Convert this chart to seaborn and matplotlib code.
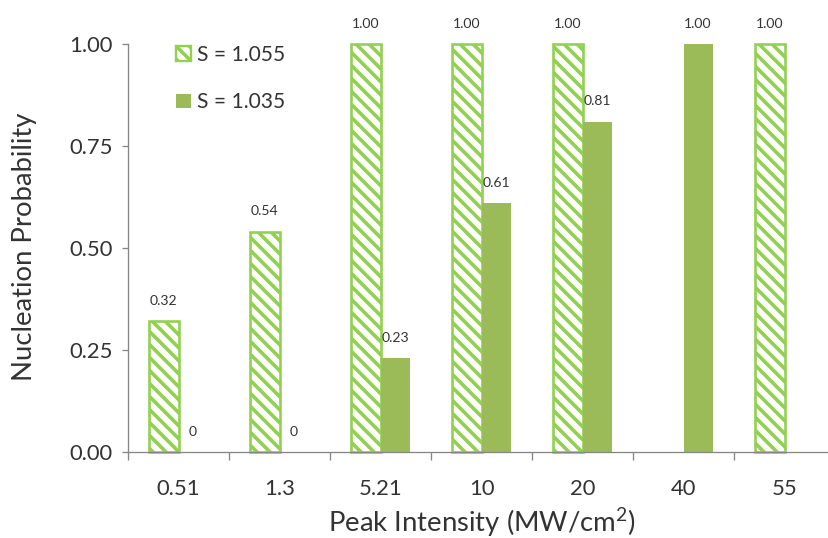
import numpy as np
import pandas as pd
import matplotlib
matplotlib.use("Agg")
import matplotlib.pyplot as plt
from matplotlib.patches import Patch
import seaborn as sns

# Nucleation probability per laser peak intensity, two supersaturations
intensity = ["0.51", "1.3", "5.21", "10", "20", "40", "55"]
prob_s1055 = [0.32, 0.54, 1.00, 1.00, 1.00, np.nan, 1.00]
prob_s1035 = [0.00, 0.00, 0.23, 0.61, 0.81, 1.00, np.nan]
series_labels = ["S = 1.055", "S = 1.035"]
y_ticks = [0.00, 0.25, 0.50, 0.75, 1.00]

DPI = 78
W, H = 828, 538


def px(v):
    """Convert pixels to points at the figure dpi."""
    return v * 72.0 / DPI


sns.set_theme(style="white")
plt.rcParams["font.family"] = ["Lato", "DejaVu Sans"]
plt.rcParams["mathtext.fontset"] = "custom"
plt.rcParams["mathtext.rm"] = "Lato"
plt.rcParams["mathtext.it"] = "Lato"
plt.rcParams["hatch.linewidth"] = px(3.6)

GREEN_HATCH = "#92D050"
GREEN_SOLID = "#9BBB59"
AXIS_GREY = "#868686"
TEXT = "#333333"
HATCH = "\\\\"

df = pd.concat([
    pd.DataFrame({"intensity": intensity, "prob": prob_s1055, "S": series_labels[0]}),
    pd.DataFrame({"intensity": intensity, "prob": prob_s1035, "S": series_labels[1]}),
]).dropna()

fig = plt.figure(figsize=(W / DPI, H / DPI), dpi=DPI, facecolor="white")
ax = fig.add_axes([128 / W, 86 / H, 707 / W, 408 / H])

sns.barplot(
    data=df, x="intensity", y="prob", hue="S",
    order=intensity, hue_order=series_labels,
    palette={series_labels[0]: GREEN_HATCH, series_labels[1]: GREEN_SOLID},
    width=0.58, errorbar=None, legend=False, ax=ax, saturation=1,
)

hatched, solid = ax.containers[0], ax.containers[1]
for p in hatched.patches:
    p.set_facecolor("white")
    p.set_edgecolor(GREEN_HATCH)
    p.set_hatch(HATCH)
    p.set_linewidth(px(2.6))
    p.set_clip_on(False)
for p in solid.patches:
    p.set_edgecolor("none")
    p.set_linewidth(0)
    p.set_clip_on(False)

for cont in (hatched, solid):
    labels = ["0" if v == 0 else f"{v:.2f}" for v in cont.datavalues]
    ax.bar_label(cont, labels=labels, padding=px(14.5), fontsize=px(14),
                 color=TEXT)

ax.set_xlim(-0.5, len(intensity) - 0.5)
ax.set_ylim(0, 1)
ax.set_yticks(y_ticks)
ax.set_yticklabels([f"{t:.2f}" for t in y_ticks])

# category labels at centres, tick marks on category boundaries
ax.set_xticks(range(len(intensity)))
ax.set_xticklabels(intensity)
ax.set_xticks(np.arange(-0.5, len(intensity), 1.0), minor=True)
ax.tick_params(axis="x", which="major", length=0, pad=px(27),
               labelsize=px(22), labelcolor=TEXT)
ax.tick_params(axis="x", which="minor", length=px(8), width=px(1.3),
               color=AXIS_GREY, direction="out", bottom=True)
ax.tick_params(axis="y", length=px(6), width=px(1.3), color=AXIS_GREY,
               direction="out", left=True, pad=px(9), labelsize=px(22),
               labelcolor=TEXT)

for side in ("top", "right"):
    ax.spines[side].set_visible(False)
for side in ("left", "bottom"):
    ax.spines[side].set_color(AXIS_GREY)
    ax.spines[side].set_linewidth(px(1.3))

ax.set_xlabel("Peak Intensity (MW/cm$^{2}$)", fontsize=px(27.5), color=TEXT)
ax.set_ylabel("Nucleation Probability", fontsize=px(27.5), color=TEXT)
ax.xaxis.set_label_coords(481.5 / W, (H - 506) / H, transform=fig.transFigure)
ax.yaxis.set_label_coords(37 / W, (H - 247) / H, transform=fig.transFigure)

handles = [
    Patch(facecolor="white", edgecolor=GREEN_HATCH, hatch=HATCH,
          linewidth=px(2.4)),
    Patch(facecolor=GREEN_SOLID, edgecolor="none"),
]
ax.legend(handles, series_labels, loc="upper left",
          bbox_to_anchor=(176 / W, (H - 45) / H),
          bbox_transform=fig.transFigure, frameon=False,
          fontsize=px(21), labelspacing=1.3, handlelength=0.7,
          handleheight=0.7, handletextpad=0.3, borderpad=0,
          borderaxespad=0, labelcolor=TEXT)

fig.savefig("out.png", dpi=DPI, facecolor="white")
